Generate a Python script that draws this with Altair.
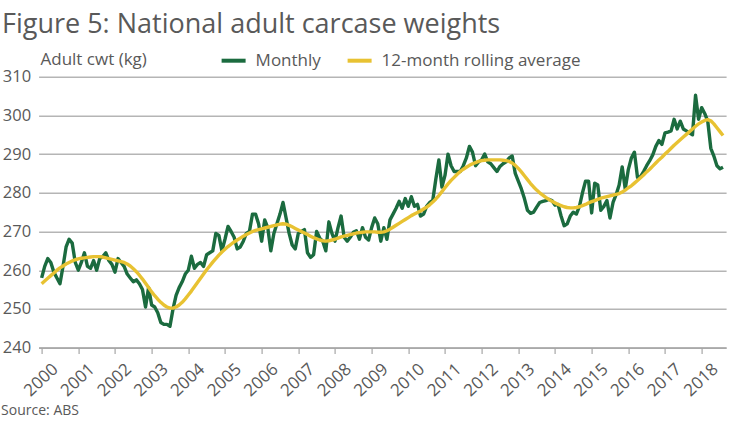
import altair as alt
import pandas as pd

FIRST_YEAR = 2000

# Monthly national adult carcase weight (kg), Jan 2000 - Aug 2018
MONTHLY = [
    258.0, 261.0, 263.0, 262.0, 259.5, 258.0, 256.5, 261.0, 266.0, 268.0, 267.0, 262.0,  # 2000
    260.0, 262.0, 264.5, 261.0, 260.5, 262.5, 260.0, 263.0, 263.5, 264.5, 262.5, 261.5,  # 2001
    259.5, 263.0, 262.0, 261.0, 259.0, 258.0, 257.0, 257.5, 256.5, 255.0, 250.5, 255.5,  # 2002
    251.0, 250.5, 249.0, 246.5, 246.0, 246.0, 245.5, 250.0, 253.5, 255.5, 257.0, 259.0,  # 2003
    260.0, 263.6, 260.5, 261.5, 262.0, 261.0, 264.0, 264.5, 265.0, 269.5, 269.0, 265.0,  # 2004
    268.0, 271.3, 270.0, 268.5, 265.5, 266.0, 267.5, 269.5, 270.0, 274.5, 274.5, 272.0,  # 2005
    267.5, 273.0, 271.0, 265.0, 269.5, 272.0, 274.5, 277.5, 273.5, 269.5, 266.5, 265.5,  # 2006
    269.5, 270.0, 270.5, 264.5, 263.3, 264.0, 270.0, 268.3, 267.5, 265.0, 272.5, 269.5,  # 2007
    267.5, 271.0, 274.0, 268.5, 267.5, 268.5, 269.8, 270.2, 268.0, 271.0, 268.5, 267.8,  # 2008
    271.0, 273.5, 272.0, 267.5, 271.0, 268.0, 273.0, 274.5, 276.0, 277.8, 276.0, 278.5,  # 2009
    276.5, 279.0, 276.5, 277.0, 274.0, 274.5, 276.5, 277.5, 278.0, 283.5, 288.5, 281.5,  # 2010
    284.5, 290.0, 287.0, 285.5, 285.5, 285.5, 287.0, 289.0, 292.0, 290.5, 287.0, 288.0,  # 2011
    288.5, 290.0, 288.0, 287.5, 286.5, 285.5, 286.8, 287.5, 288.0, 289.0, 289.5, 285.0,  # 2012
    283.0, 281.0, 278.5, 275.5, 274.7, 275.0, 276.3, 277.5, 277.8, 278.0, 278.3, 278.0,  # 2013
    276.8, 277.0, 274.0, 271.5, 272.0, 274.0, 275.0, 274.5, 276.5, 280.0, 283.0, 283.0,  # 2014
    274.8, 282.5, 282.0, 275.5, 276.5, 278.0, 273.5, 277.5, 279.5, 282.0, 286.7, 281.0,  # 2015
    286.0, 289.0, 290.5, 284.0, 284.2, 285.5, 287.0, 288.3, 289.8, 292.0, 293.5, 292.5,  # 2016
    295.5, 295.7, 296.0, 299.0, 296.5, 298.5, 296.5, 296.0, 295.5, 295.0, 305.2, 299.0,  # 2017
    302.0, 300.5, 298.5, 291.5, 289.5, 287.0, 286.2, 286.6,                              # 2018
]

# 12-month rolling average (kg), same months
ROLLING = [
    256.5, 257.2, 257.9, 258.6, 259.3, 260.0, 260.6, 261.1, 261.6, 262.0, 262.4, 262.7,  # 2000
    262.9, 263.1, 263.2, 263.3, 263.4, 263.5, 263.5, 263.5, 263.4, 263.2, 263.0, 262.8,  # 2001
    262.6, 262.4, 262.2, 262.0, 261.6, 261.1, 260.4, 259.6, 258.7, 257.7, 256.6, 255.5,  # 2002
    254.4, 253.4, 252.5, 251.7, 251.0, 250.5, 250.2, 250.2, 250.5, 251.0, 251.7, 252.6,  # 2003
    253.6, 254.6, 255.7, 256.8, 257.9, 259.0, 260.1, 261.1, 262.1, 263.0, 263.9, 264.7,  # 2004
    265.4, 266.1, 266.7, 267.3, 267.8, 268.3, 268.8, 269.2, 269.6, 270.0, 270.3, 270.5,  # 2005
    270.7, 270.9, 271.1, 271.3, 271.5, 271.7, 271.9, 272.0, 271.9, 271.6, 271.2, 270.8,  # 2006
    270.4, 270.0, 269.6, 269.2, 268.8, 268.4, 268.1, 267.8, 267.6, 267.5, 267.6, 267.8,  # 2007
    268.0, 268.3, 268.6, 268.8, 269.0, 269.2, 269.4, 269.6, 269.7, 269.8, 269.9, 269.9,  # 2008
    269.9, 269.9, 269.8, 269.8, 269.9, 270.2, 270.6, 271.1, 271.6, 272.1, 272.6, 273.1,  # 2009
    273.6, 274.1, 274.5, 274.9, 275.3, 275.8, 276.3, 276.9, 277.6, 278.4, 279.3, 280.3,  # 2010
    281.3, 282.3, 283.2, 284.0, 284.8, 285.5, 286.1, 286.6, 287.1, 287.5, 287.8, 288.1,  # 2011
    288.3, 288.4, 288.5, 288.5, 288.5, 288.5, 288.5, 288.4, 288.3, 288.1, 287.7, 287.1,  # 2012
    286.3, 285.4, 284.4, 283.4, 282.4, 281.5, 280.7, 280.0, 279.4, 278.8, 278.3, 277.8,  # 2013
    277.4, 277.0, 276.7, 276.4, 276.2, 276.1, 276.1, 276.2, 276.4, 276.7, 277.0, 277.4,  # 2014
    277.7, 278.0, 278.3, 278.6, 278.8, 279.0, 279.2, 279.4, 279.6, 279.8, 280.2, 280.7,  # 2015
    281.3, 281.8, 282.5, 283.2, 283.9, 284.6, 285.4, 286.1, 286.9, 287.7, 288.5, 289.2,  # 2016
    290.0, 290.7, 291.5, 292.3, 293.0, 293.7, 294.4, 295.1, 295.8, 296.5, 297.2, 297.8,  # 2017
    298.3, 298.7, 298.9, 298.6, 297.8, 296.8, 295.8, 294.8,                              # 2018
]

SERIES = ["Monthly", "12-month rolling average"]
COLORS = ["#1b6b3f", "#e8c232"]
YEAR_TICKS = list(range(2000, 2019))
Y_TICKS = [240, 250, 260, 270, 280, 290, 300, 310]

TEXT = "#595959"
GRID = "#b5b5b5"
FONT = "Open Sans"

rows = []
for i, (m, r) in enumerate(zip(MONTHLY, ROLLING)):
    t = FIRST_YEAR + i / 12
    rows.append({"t": t, "series": SERIES[0], "value": m})
    rows.append({"t": t, "series": SERIES[1], "value": r})
df = pd.DataFrame(rows)

x_enc = alt.X(
    "t:Q",
    scale=alt.Scale(domain=[1999.917, 2018.667], nice=False, zero=False),
    axis=alt.Axis(
        values=YEAR_TICKS, format="d", grid=False,
        labelAngle=-43, labelAlign="right", labelBaseline="top",
        labelOffset=8, labelPadding=7, labelOverlap=False, labelFlush=False,
        labelBound=False, labelFontSize=17, labelColor=TEXT, labelFont=FONT,
        tickSize=6, tickColor="#a6a6a6", tickWidth=1.2,
        domainColor="#a6a6a6", domainWidth=1.5,
        title="Source: ABS", titleX=-38, titleY=63, titleAlign="left",
        titleBaseline="middle", titleFontSize=14, titleFontWeight="normal",
        titleColor=TEXT, titleFont=FONT,
    ),
)
y_enc = alt.Y(
    "value:Q",
    scale=alt.Scale(domain=[240, 310], nice=False, zero=False),
    axis=alt.Axis(
        values=Y_TICKS, grid=True, gridColor=GRID, gridWidth=1.5,
        domain=False, ticks=False, labelPadding=8,
        labelFontSize=16.5, labelColor=TEXT, labelFont=FONT,
        title="Adult cwt (kg)", titleAngle=0, titleX=1.4, titleY=-17,
        titleAlign="left", titleBaseline="middle", titleFontSize=17,
        titleFontWeight="normal", titleColor=TEXT, titleFont=FONT,
    ),
)
color_enc = alt.Color(
    "series:N",
    scale=alt.Scale(domain=SERIES, range=COLORS),
    sort=SERIES,
    legend=alt.Legend(
        title=None, orient="none", legendX=181, legendY=-30,
        direction="horizontal", symbolType="stroke", symbolSize=576,
        symbolStrokeWidth=4, labelFontSize=17, labelColor=TEXT,
        labelFont=FONT, labelOffset=8, labelLimit=0, columnPadding=18,
        padding=0,
    ),
)

base = alt.Chart(df).mark_line(strokeWidth=3.4, strokeJoin="round").encode(
    x=x_enc, y=y_enc, color=color_enc
)
monthly = base.transform_filter(alt.datum.series == SERIES[0])
rolling = base.transform_filter(alt.datum.series == SERIES[1])

chart = (
    alt.layer(monthly, rolling)
    .properties(
        width=687.5,
        height=270.9,
        autosize=alt.AutoSizeParams(type="none"),
        padding={"left": 38.6, "top": 76.7, "right": 14.9, "bottom": 83.4},
        title=alt.TitleParams(
            "Figure 5: National adult carcase weights",
            anchor="start", frame="group", dx=-36.6, dy=-4,
            fontSize=27, font=FONT, fontWeight=400, color=TEXT,
        ),
        background="white",
    )
    .configure_view(stroke=None)
)

chart.save("out.html", embed_options={"renderer": "svg", "actions": False})
